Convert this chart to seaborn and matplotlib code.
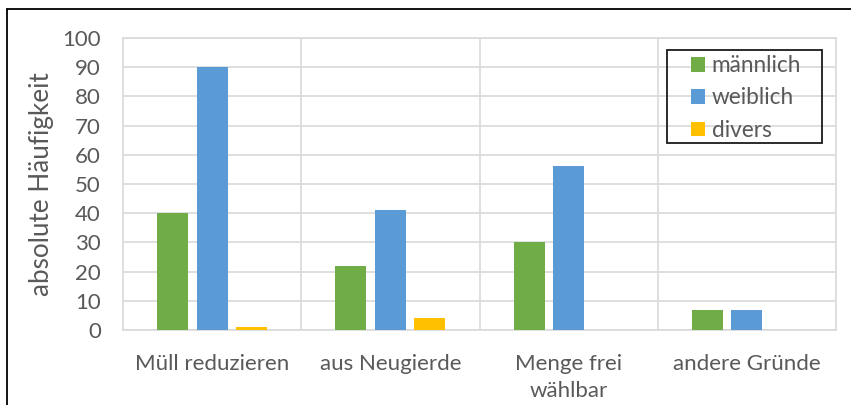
import matplotlib
matplotlib.use("Agg")
import matplotlib.pyplot as plt
from matplotlib.lines import Line2D
from matplotlib.patches import Rectangle
import seaborn as sns
import pandas as pd

categories = ["Müll reduzieren", "aus Neugierde", "Menge frei\nwählbar", "andere Gründe"]
maennlich = [40, 22, 30, 7]
weiblich = [90, 41, 56, 7]
divers = [1, 4, 0, 0]
series_names = ["männlich", "weiblich", "divers"]
colors = ["#70AD47", "#5B9BD5", "#FFC000"]
y_ticks = [0, 10, 20, 30, 40, 50, 60, 70, 80, 90, 100]

rows = []
for name, vals in zip(series_names, [maennlich, weiblich, divers]):
    for cat, v in zip(categories, vals):
        rows.append({"Grund": cat, "Geschlecht": name, "Anzahl": v})
df = pd.DataFrame(rows)

sns.set_style("white")
plt.rcParams["font.family"] = ["Lato", "DejaVu Sans"]
text_color = "#595959"
grid_color = "#D9D9D9"

W, H = 851, 405
fig = plt.figure(figsize=(W / 100, H / 100), dpi=100)
ax = fig.add_axes([123 / W, 1 - 330 / H, (836 - 123) / W, (330 - 38) / H])

sns.barplot(data=df, x="Grund", y="Anzahl", hue="Geschlecht",
            order=categories, hue_order=series_names, palette=colors,
            width=0.665, gap=0.215, saturation=1, linewidth=0,
            errorbar=None, ax=ax, zorder=3)

ax.set_xlim(-0.5, len(categories) - 0.5)
ax.set_ylim(0, 100)
ax.set_yticks(y_ticks)
ax.set_xticks(range(len(categories)))
ax.set_xticklabels(categories, linespacing=1.45)
ax.set_xticks([i + 0.5 for i in range(len(categories) - 1)], minor=True)

ax.grid(True, axis="y", which="major", color=grid_color, linewidth=1.2, zorder=0)
ax.grid(True, axis="x", which="minor", color=grid_color, linewidth=1.2, zorder=0)
ax.grid(False, axis="x", which="major")
ax.set_axisbelow(True)

for side in ["left", "right", "top", "bottom"]:
    ax.spines[side].set_visible(True)
    ax.spines[side].set_color(grid_color)
    ax.spines[side].set_linewidth(1.2)

ax.tick_params(axis="both", which="both", length=0, colors=text_color, labelsize=16)
ax.tick_params(axis="y", pad=16)
ax.tick_params(axis="x", pad=17)
ax.set_xlabel("")
ax.set_ylabel("absolute Häufigkeit", fontsize=18.8, color=text_color, labelpad=6)

handles, labels = ax.get_legend_handles_labels()
ax.legend_.remove()
leg = fig.legend(handles, labels, loc="center left",
                 bbox_to_anchor=(691 / W, 1 - 98 / H),
                 frameon=False, handlelength=0.62, handleheight=0.62,
                 handletextpad=0.3, labelspacing=0.5, borderpad=0,
                 borderaxespad=0, fontsize=16.3, labelcolor=text_color)

# legend box
fig.add_artist(Rectangle((667 / W, 1 - 143 / H), (822 - 667) / W, (143 - 50) / H,
                         transform=fig.transFigure, facecolor="none",
                         edgecolor="#1a1a1a", linewidth=1.3, zorder=5))

# outer frame of the chart area
fig.add_artist(Line2D([7 / W, 1.0], [1 - 9 / H, 1 - 9 / H],
                      transform=fig.transFigure, color="black", linewidth=1.3))
fig.add_artist(Line2D([7 / W, 7 / W], [0.0, 1 - 9 / H],
                      transform=fig.transFigure, color="black", linewidth=1.3))

fig.savefig("out.png", dpi=100)
